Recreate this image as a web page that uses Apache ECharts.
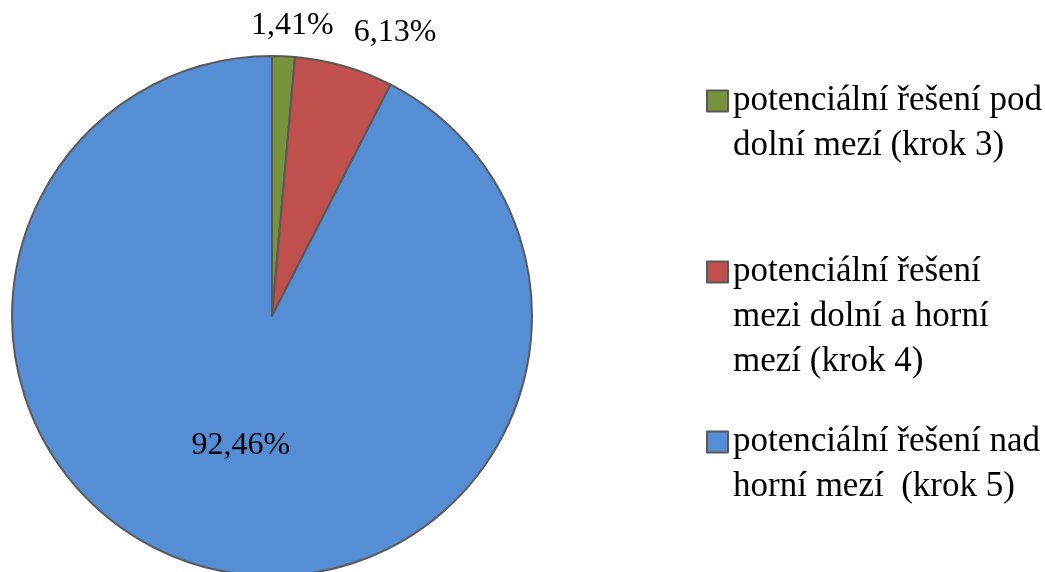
<!DOCTYPE html>
<html>
<head>
<meta charset="utf-8">
<script src="https://cdn.jsdelivr.net/npm/echarts@6/dist/echarts.min.js"></script>
<style>
html,body{margin:0;padding:0;background:#fff;}
#chart{width:1045px;height:572px;}
</style>
</head>
<body>
<div id="chart"></div>
<script>
const categories = [
  "potenciální řešení pod\ndolní mezí (krok 3)",
  "potenciální řešení\nmezi dolní a horní\nmezí (krok 4)",
  "potenciální řešení nad\nhorní mezí  (krok 5)"
];
const values = [1.41, 6.13, 92.46];

const palette = ['#77933C', '#C0504D', '#558ED5'];
const FONT = 'Liberation Serif';
const LH = 45;

const labelCfg = [
  { label: { position: 'outside' }, labelLine: { show: false, length: 31, length2: -34 } },
  { label: { position: 'outside' }, labelLine: { show: false, length: 35, length2: 0 } },
  { label: { position: 'inside' }, labelLine: { show: false } }
];

const seriesData = categories.map((c, i) => Object.assign({
  name: c,
  value: values[i],
  itemStyle: { color: palette[i] }
}, labelCfg[i]));

function legendFor(i, iconCenter) {
  const lines = categories[i].split('\n').length;
  const total = 2 * lines - 1;
  return {
    data: [categories[i]],
    left: 706,
    top: iconCenter - total * LH / 2,
    padding: 0,
    orient: 'vertical',
    icon: 'rect',
    itemWidth: 21,
    itemHeight: 21,
    selectedMode: false,
    itemStyle: { borderColor: '#595959', borderWidth: 2 },
    formatter: function (name) {
      return '\n'.repeat(lines - 1) + name;
    },
    textStyle: { fontFamily: FONT, fontSize: 35, color: '#000', lineHeight: LH }
  };
}

const chart = echarts.init(document.getElementById('chart'), null, { renderer: 'canvas' });
chart.setOption({
  animation: false,
  backgroundColor: '#fff',
  legend: [
    legendFor(0, 101),
    legendFor(1, 272),
    legendFor(2, 442)
  ],
  series: [{
    type: 'pie',
    center: [272, 316],
    radius: 260,
    startAngle: 90,
    clockwise: true,
    avoidLabelOverlap: false,
    itemStyle: { borderColor: '#595959', borderWidth: 2 },
    label: {
      show: true,
      fontFamily: FONT,
      fontSize: 32,
      color: '#000',
      distanceToLabelLine: 0,
      formatter: function (p) { return p.value.toFixed(2).replace('.', ',') + '%'; }
    },
    emphasis: { disabled: true },
    data: seriesData
  }]
});
</script>
</body>
</html>
